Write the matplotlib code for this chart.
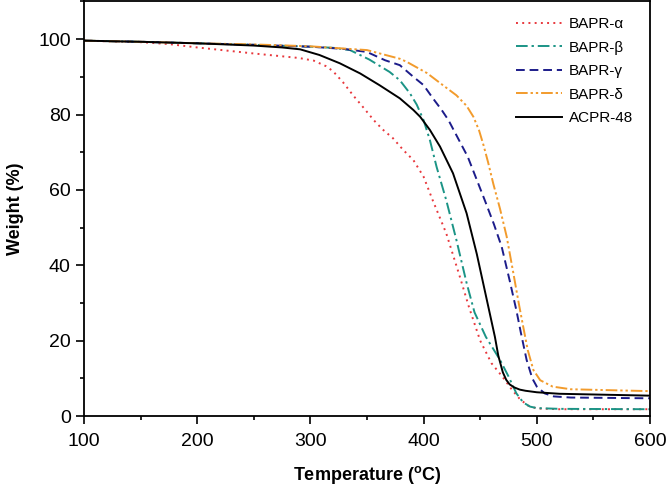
import matplotlib
matplotlib.use("Agg")
import matplotlib.pyplot as plt
from matplotlib.ticker import MultipleLocator

plt.rcParams['font.family'] = ['Liberation Sans', 'DejaVu Sans']

# TGA curves
t_alpha = [100, 150, 175, 200, 250, 290, 303, 314, 320, 329, 338, 347, 356, 364, 373, 382,
           391, 400, 408, 420, 432, 440, 450, 460, 470, 478, 485, 492, 500, 520, 600]
w_alpha = [99.6, 99.2, 98.7, 97.8, 96.2, 95.0, 94.3, 92.8, 91.5, 88.5, 85.0, 81.8, 78.5, 76.0,
           73.7, 70.6, 67.9, 63.5, 57.3, 48.5, 37.0, 29.0, 20.0, 14.0, 10.3, 7.0, 4.5, 2.8, 2.0,
           1.8, 1.8]

t_beta = [100, 150, 200, 250, 300, 320, 335, 352, 370, 379, 388, 394, 400, 405.6, 411.5, 420,
          429, 438, 445, 455, 467.5, 475, 482, 488, 494, 500, 520, 600]
w_beta = [99.6, 99.3, 98.9, 98.5, 98.0, 97.7, 97.1, 94.6, 91.3, 89.1, 85.6, 82.6, 78.5, 73.2,
          66.1, 57.3, 46.7, 35.3, 27.5, 21.0, 14.9, 10.5, 6.0, 3.6, 2.5, 2.1, 1.9, 1.8]

t_gamma = [100, 150, 200, 250, 300, 330, 350, 366, 379, 391, 400, 408.5, 416, 422, 439, 454,
           462, 469, 476, 482, 486, 491, 496, 500, 507, 515, 530, 600]
w_gamma = [99.6, 99.3, 98.9, 98.5, 98.0, 97.4, 96.6, 94.4, 93.1, 90.0, 87.8, 84.2, 81.2, 78.5,
           68.8, 57.3, 51.0, 44.9, 36.0, 28.0, 22.0, 14.9, 10.0, 7.8, 6.0, 5.2, 4.9, 4.7]

t_delta = [100, 150, 200, 250, 300, 350, 379, 385, 403, 417, 429, 438, 444, 449, 453, 457,
           461.6, 467.5, 473.4, 479.3, 484, 488, 492, 497, 503, 514, 530, 600]
w_delta = [99.6, 99.3, 98.9, 98.6, 98.1, 97.1, 94.8, 94.0, 91.0, 87.8, 85.1, 82.3, 79.4, 75.8,
           71.8, 67.3, 61.6, 55.0, 47.6, 37.9, 30.0, 23.7, 17.5, 12.2, 9.5, 7.8, 7.1, 6.6]

t_acpr = [100, 150, 200, 250, 275, 291, 308, 326, 344, 361, 379, 391, 397, 405.6, 414.5, 426,
          438, 447, 455, 463, 466, 470, 473, 476, 480, 485, 490, 500, 520, 600]
w_acpr = [99.6, 99.3, 98.9, 98.3, 97.8, 97.3, 95.8, 93.6, 90.9, 87.8, 84.3, 81.2, 79.4, 75.9,
          71.5, 64.4, 53.8, 43.0, 32.0, 21.0, 16.0, 11.6, 9.6, 8.4, 7.6, 7.0, 6.7, 6.3, 5.9, 5.4]

fig = plt.figure(figsize=(6.66, 4.90), dpi=100)
ax = fig.add_axes([0.126, 0.151, 0.850, 0.846])

lw = 1.4
ax.plot(t_alpha, w_alpha, color='#e8383d', linestyle=(0, (1, 2.2)), lw=lw, label='BAPR-α')
ax.plot(t_beta, w_beta, color='#1b9486', linestyle=(0, (6, 2, 1.2, 2)), lw=lw, label='BAPR-β')
ax.plot(t_gamma, w_gamma, color='#1c1c8a', linestyle=(0, (4.5, 2.5)), lw=lw, label='BAPR-γ')
ax.plot(t_delta, w_delta, color='#f29b2c', linestyle=(0, (6, 1.5, 1.2, 1.5, 1.2, 1.5)), lw=lw,
        label='BAPR-δ')
ax.plot(t_acpr, w_acpr, color='black', linestyle='-', lw=lw, label='ACPR-48')

ax.set_xlim(100, 600)
ax.set_ylim(0, 110)
ax.xaxis.set_major_locator(MultipleLocator(100))
ax.xaxis.set_minor_locator(MultipleLocator(50))
ax.yaxis.set_major_locator(MultipleLocator(20))
ax.yaxis.set_minor_locator(MultipleLocator(10))
ax.tick_params(which='both', direction='out', top=False, right=False, labelsize=14, width=1.2)
ax.tick_params(which='major', length=6)
ax.tick_params(which='minor', length=3)
ax.tick_params(axis='x', pad=6)
for s in ax.spines.values():
    s.set_linewidth(1.3)

ax.set_xlabel(r'Temperature ($^\mathregular{o}$C)', fontsize=13, fontweight='bold', labelpad=10)
ax.set_ylabel('Weight (%)', fontsize=13, fontweight='bold', labelpad=10)

ax.legend(loc='upper right', bbox_to_anchor=(0.995, 0.995), frameon=False, fontsize=11,
          handlelength=3.0, labelspacing=0.62, handletextpad=0.5)

fig.savefig('out.png', dpi=100)
